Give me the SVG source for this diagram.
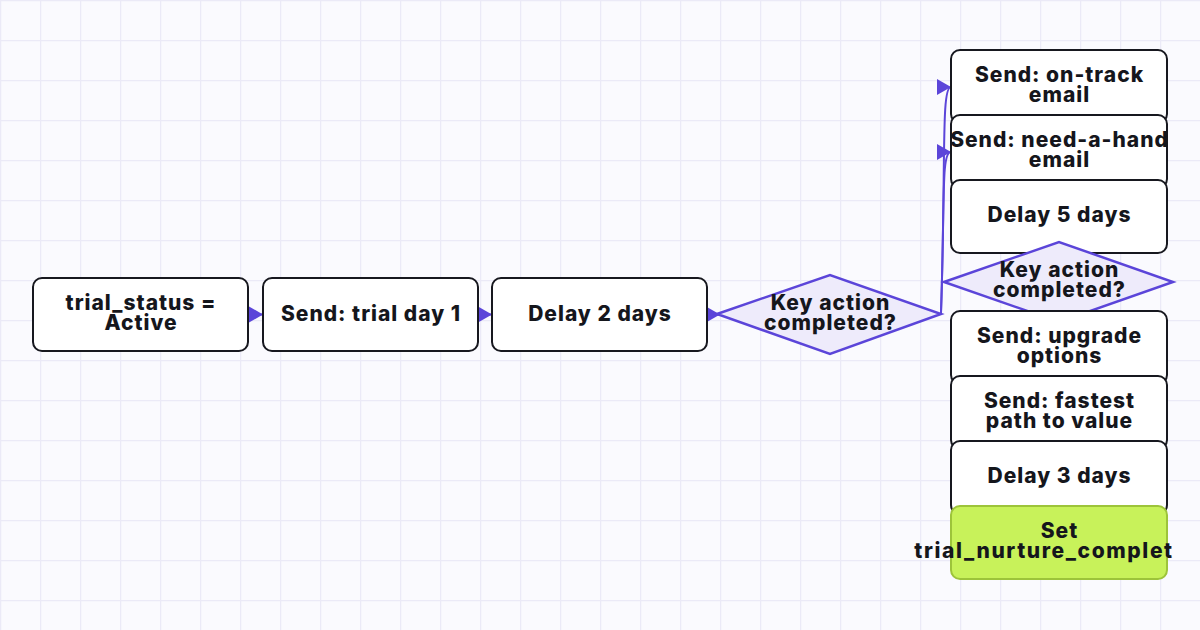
<svg xmlns="http://www.w3.org/2000/svg" width="1200" height="630" viewBox="0 0 1200 630">
<defs>
<pattern id="grid" width="40" height="40" patternUnits="userSpaceOnUse">
<path d="M0.5 0 V40 M0 0.5 H40" fill="none" stroke="#EBEAF7" stroke-width="1.5"/>
</pattern>
<marker id="arr" markerUnits="userSpaceOnUse" markerWidth="16" markerHeight="17" refX="14" refY="8" orient="auto" viewBox="0 0 16 16">
<path d="M0 0 L14 8 L0 16 Z" fill="#5B45D9"/>
</marker>
<style>
.box{fill:#FFFFFF;stroke:#17181F;stroke-width:2}
.dia{fill:#EEEBFB;stroke:#5B45D9;stroke-width:2.5}
.done{fill:#C8F25A;stroke:#9DC43A;stroke-width:2}
.t{font-family:Inter,"Noto Sans","Liberation Sans",sans-serif;font-weight:800;font-size:21px;letter-spacing:1px;fill:#15161C;text-anchor:middle}
.e{fill:none;stroke:#5B45D9;stroke-width:2}
</style>
</defs>
<rect width="1200" height="630" fill="#FAFAFE"/>
<rect width="1200" height="630" fill="url(#grid)"/>
<g id="connectors">
<line class="e" x1="248" y1="314.5" x2="263" y2="314.5" marker-end="url(#arr)"/>
<line class="e" x1="478" y1="314.5" x2="492" y2="314.5" marker-end="url(#arr)"/>
<line class="e" x1="707" y1="314.5" x2="720" y2="314.5" marker-end="url(#arr)"/>
<path class="e" d="M941 313 C946 160 941 87 951 87" marker-end="url(#arr)"/>
<path class="e" d="M941 313 C945 200 941 152 951 152" marker-end="url(#arr)"/>
</g>
<g id="n1"><rect class="box" x="33" y="278" width="215" height="73" rx="9"/><text class="t" x="141" y="310">trial_status =</text><text class="t" x="141" y="330">Active</text></g>
<g id="n2"><rect class="box" x="263" y="278" width="215" height="73" rx="9"/><text class="t" x="371" y="321">Send: trial day 1</text></g>
<g id="n3"><rect class="box" x="492" y="278" width="215" height="73" rx="9"/><text class="t" x="600" y="321">Delay 2 days</text></g>
<g id="d1"><polygon class="dia" points="717,314 830,275 941,314 830,354"/><text class="t" x="830.5" y="310">Key action</text><text class="t" x="830.5" y="330">completed?</text></g>
<g id="n4"><rect class="box" x="951" y="50" width="216" height="73" rx="9"/><text class="t" x="1059.5" y="82">Send: on-track</text><text class="t" x="1059.5" y="102">email</text></g>
<g id="n5"><rect class="box" x="951" y="115" width="216" height="73" rx="9"/><text class="t" x="1059.5" y="147">Send: need-a-hand</text><text class="t" x="1059.5" y="167">email</text></g>
<g id="n6"><rect class="box" x="951" y="180" width="216" height="73" rx="9"/><text class="t" x="1059.5" y="222">Delay 5 days</text></g>
<g id="d2"><polygon class="dia" points="944,282 1059,242 1173,282 1059,322"/><text class="t" x="1059.5" y="277">Key action</text><text class="t" x="1059.5" y="297">completed?</text></g>
<g id="n7"><rect class="box" x="951" y="311" width="216" height="73" rx="9"/><text class="t" x="1059.5" y="343">Send: upgrade</text><text class="t" x="1059.5" y="363">options</text></g>
<g id="n8"><rect class="box" x="951" y="376" width="216" height="73" rx="9"/><text class="t" x="1059.5" y="408">Send: fastest</text><text class="t" x="1059.5" y="428">path to value</text></g>
<g id="n9"><rect class="box" x="951" y="441" width="216" height="73" rx="9"/><text class="t" x="1059.5" y="483">Delay 3 days</text></g>
<g id="n10"><rect class="done" x="951" y="506" width="216" height="73" rx="9"/><text class="t" x="1059.5" y="538">Set</text><text class="t" x="1044" y="558" style="letter-spacing:1.6px">trial_nurture_complet</text></g>
</svg>
